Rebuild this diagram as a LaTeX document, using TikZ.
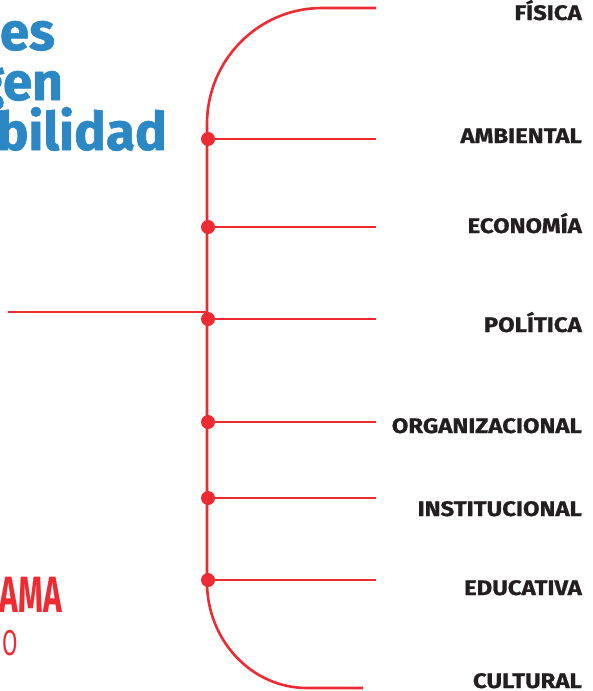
\documentclass[tikz,border=0pt]{standalone}
\usepackage{fontspec}
\setmainfont{Fira Sans}[BoldFeatures={FakeBold=1.2}]
\newfontfamily\labfont{Fira Sans}[FakeStretch=1.14, BoldFeatures={FakeBold=0.9}]
\newfontfamily\condfont{Fira Sans}[FakeStretch=0.62]
\definecolor{rojo}{HTML}{EE2B33}
\definecolor{azul}{HTML}{2B88C4}
\definecolor{negro}{HTML}{231F20}
\begin{document}
\begin{tikzpicture}[x=1pt,y=-1pt,
  lab/.style={anchor=base east, inner sep=0pt, text=negro,
    font=\labfont\bfseries\fontsize{21}{21}\selectfont},
  ttl/.style={anchor=base east, inner sep=0pt, text=azul,
    font=\bfseries\fontsize{53}{53}\selectfont},
  dotn/.style={circle, fill=rojo, inner sep=0pt, minimum size=14pt},
  rline/.style={draw=rojo, line width=2.6pt}]
\useasboundingbox (0,0) rectangle (593,691);
\clip (0,0) rectangle (593,691);

% title fragments
\node[ttl] (t1) at (55,50) {es};
\node[ttl] (t2) at (63,100) {gen};
\node[ttl] (t3) at (167,150) {bilidad};

% red fragments bottom left
\node[anchor=base east, inner sep=0pt, text=rojo,
  font=\condfont\bfseries\fontsize{51}{51}\selectfont] (r1) at (62,612) {AMA};
\node[anchor=base east, inner sep=0pt, text=rojo,
  font=\condfont\fontsize{36}{36}\selectfont] (r2) at (18,655) {O};

% spine with arcs
\coordinate (topend) at (376,8);
\coordinate (botend) at (363,688);
\draw[rline] (topend) -- (322,8)
  arc[start angle=270, end angle=180, x radius=115, y radius=116]
  -- (207,582)
  arc[start angle=180, end angle=90, x radius=100, y radius=106]
  -- (botend);

% left feeder line
\coordinate (lstart) at (8,312);
\coordinate (ljoin) at (207,312);
\draw[rline] (lstart) -- (ljoin);

% dots and branches
\foreach \n/\y in {1/139,2/227,3/319,4/422,5/498,6/580}{
  \node[dotn] (d\n) at (208,\y) {};
  \coordinate (e\n) at (376,\y);
  \draw[rline] (d\n.center) -- (e\n);
}

% labels
\node[lab] (l0) at (582,20) {FÍSICA};
\node[lab] (l1) at (582,143) {AMBIENTAL};
\node[lab] (l2) at (582,233) {ECONOMÍA};
\node[lab] (l3) at (582,332) {POLÍTICA};
\node[lab] (l4) at (582,433) {ORGANIZACIONAL};
\node[lab] (l5) at (582,516) {INSTITUCIONAL};
\node[lab] (l6) at (582,595) {EDUCATIVA};
\node[lab] (l7) at (582,688) {CULTURAL};
\end{tikzpicture}
\end{document}
